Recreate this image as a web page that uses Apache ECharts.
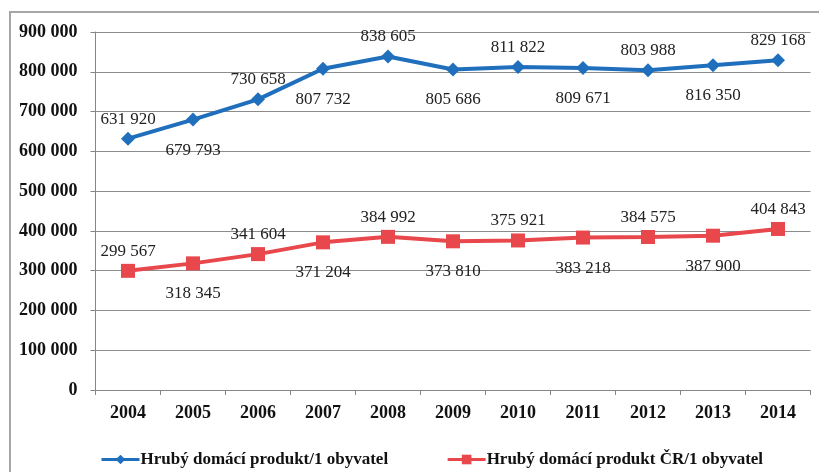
<!DOCTYPE html>
<html>
<head>
<meta charset="utf-8">
<script src="https://cdn.jsdelivr.net/npm/echarts@6/dist/echarts.min.js"></script>
<style>
html, body { margin: 0; padding: 0; background: #fff; }
#chart { width: 819px; height: 472px; }
</style>
</head>
<body>
<div id="chart"></div>
<script>
// roky a hodnoty HDP na obyvatele
var years = ['2004', '2005', '2006', '2007', '2008', '2009', '2010', '2011', '2012', '2013', '2014'];
var hdpKraj = [631920, 679793, 730658, 807732, 838605, 805686, 811822, 809671, 803988, 816350, 829168];
var hdpCR = [299567, 318345, 341604, 371204, 384992, 373810, 375921, 383218, 384575, 387900, 404843];
var seriesNames = ['Hrubý domácí produkt/1 obyvatel', 'Hrubý domácí produkt ČR/1 obyvatel'];

function fmt(v) {
    return String(v).replace(/\B(?=(\d{3})+(?!\d))/g, ' ');
}

// popisky střídavě nad a pod bodem
function withLabels(arr) {
    return arr.map(function (v, i) {
        return {
            value: v,
            label: i % 2 ? { position: 'bottom', distance: 15 } : { position: 'top', distance: 4 }
        };
    });
}

var labelStyle = {
    show: true,
    color: '#222',
    fontFamily: 'Liberation Serif',
    fontSize: 17,
    formatter: function (p) { return fmt(p.value); }
};

var option = {
    animation: false,
    backgroundColor: '#fff',
    textStyle: { fontFamily: 'Liberation Serif' },
    graphic: [{
        type: 'rect',
        shape: { x: 10, y: 12, width: 900, height: 600 },
        style: { fill: 'none', stroke: '#a6a6a6', lineWidth: 2 },
        silent: true
    }],
    grid: {
        left: 95.5,
        right: 8.5,
        top: 32,
        bottom: 82
    },
    legend: {
        left: 95,
        top: 446,
        itemGap: 58,
        itemWidth: 38,
        itemHeight: 12,
        lineStyle: { width: 3 },
        textStyle: {
            fontFamily: 'Liberation Serif',
            fontWeight: 'bold',
            fontSize: 17,
            color: '#111',
            padding: [0, 0, 0, -4]
        },
        data: seriesNames
    },
    xAxis: {
        type: 'category',
        data: years,
        boundaryGap: true,
        axisLine: { lineStyle: { color: '#868686', width: 1 } },
        axisTick: { show: true, length: 5, lineStyle: { color: '#868686' } },
        axisLabel: {
            margin: 14,
            color: '#111',
            fontFamily: 'Liberation Serif',
            fontWeight: 'bold',
            fontSize: 18
        }
    },
    yAxis: {
        type: 'value',
        min: 0,
        max: 900000,
        interval: 100000,
        axisLine: { show: true, lineStyle: { color: '#868686', width: 1 } },
        axisTick: { show: true, length: 5, lineStyle: { color: '#868686' } },
        splitLine: { lineStyle: { color: '#8c8c8c', width: 1 } },
        axisLabel: {
            margin: 18,
            color: '#111',
            fontFamily: 'Liberation Serif',
            fontWeight: 'bold',
            fontSize: 18,
            formatter: fmt
        }
    },
    series: [
        {
            name: seriesNames[0],
            type: 'line',
            data: withLabels(hdpKraj),
            symbol: 'diamond',
            symbolSize: 14,
            lineStyle: { color: '#1f6fbd', width: 4 },
            itemStyle: { color: '#1f6fbd' },
            label: labelStyle
        },
        {
            name: seriesNames[1],
            type: 'line',
            data: withLabels(hdpCR),
            symbol: 'rect',
            symbolSize: 14,
            lineStyle: { color: '#e8474c', width: 4 },
            itemStyle: { color: '#e8474c' },
            label: labelStyle
        }
    ]
};

var myChart = echarts.init(document.getElementById('chart'));
myChart.setOption(option);
</script>
</body>
</html>
